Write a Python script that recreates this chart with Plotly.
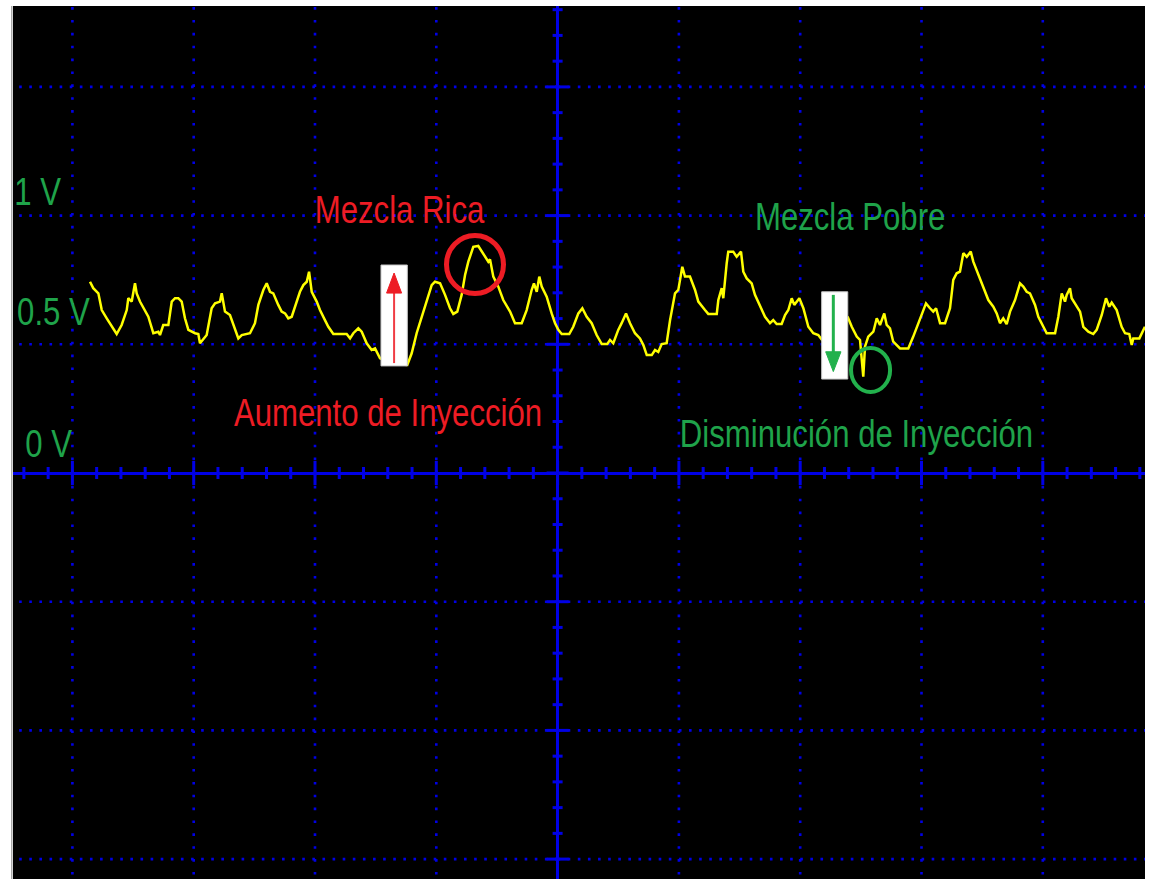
import plotly.graph_objects as go

# ---------------------------------------------------------------------------
# O2 sensor trace: time in screen divisions, amplitude in volts
# ---------------------------------------------------------------------------
t_div = [
    -3.855, -3.828, -3.786, -3.758, -3.717, -3.676, -3.635, -3.594, -3.552, -3.539,
    -3.511, -3.484, -3.470, -3.443, -3.401, -3.374, -3.333, -3.292, -3.278, -3.251,
    -3.209, -3.181, -3.154, -3.127, -3.099, -3.072, -3.044, -2.989, -2.962, -2.948,
    -2.893, -2.852, -2.824, -2.783, -2.769, -2.742, -2.701, -2.659, -2.632, -2.604,
    -2.536, -2.495, -2.467, -2.426, -2.398, -2.371, -2.344, -2.303, -2.275, -2.247,
    -2.220, -2.192, -2.165, -2.124, -2.096, -2.068, -2.049, -2.027, -1.986, -1.959,
    -1.918, -1.890, -1.849, -1.739, -1.711, -1.684, -1.643, -1.615, -1.574, -1.533,
    -1.505, -1.464, -1.349, -1.239, -1.203, -1.162, -1.120, -1.079, -1.038, -1.011,
    -0.969, -0.928, -0.887, -0.860, -0.827, -0.791, -0.763, -0.736, -0.695, -0.654,
    -0.613, -0.571, -0.557, -0.530, -0.489, -0.448, -0.392, -0.351, -0.296, -0.255,
    -0.214, -0.195, -0.172, -0.151, -0.131, -0.090, -0.049, -0.021, 0.006, 0.034,
    0.096, 0.129, 0.171, 0.204, 0.240, 0.281, 0.322, 0.364, 0.410, 0.432,
    0.459, 0.500, 0.528, 0.564, 0.597, 0.638, 0.679, 0.707, 0.735, 0.776,
    0.803, 0.830, 0.858, 0.899, 0.927, 0.968, 0.995, 1.028, 1.050, 1.091,
    1.133, 1.160, 1.215, 1.242, 1.312, 1.325, 1.353, 1.366, 1.394, 1.407,
    1.448, 1.476, 1.512, 1.531, 1.559, 1.600, 1.627, 1.669, 1.710, 1.751,
    1.778, 1.806, 1.847, 1.875, 1.902, 1.930, 1.951, 1.993, 2.026, 2.067,
    2.108, 2.149, 2.180, 2.262, 2.345, 2.396, 2.425, 2.466, 2.493, 2.520,
    2.534, 2.561, 2.603, 2.631, 2.658, 2.693, 2.713, 2.740, 2.767, 2.823,
    2.891, 2.932, 2.974, 3.002, 3.037, 3.070, 3.097, 3.120, 3.153, 3.194,
    3.235, 3.262, 3.290, 3.317, 3.345, 3.373, 3.406, 3.427, 3.468, 3.509,
    3.551, 3.592, 3.620, 3.647, 3.674, 3.702, 3.730, 3.771, 3.812, 3.839,
    3.867, 3.894, 3.936, 3.963, 4.004, 4.032, 4.101, 4.128, 4.156, 4.183,
    4.197, 4.224, 4.238, 4.279, 4.307, 4.334, 4.375, 4.416, 4.444, 4.486,
    4.521, 4.548, 4.568, 4.609, 4.650, 4.678, 4.713, 4.733, 4.746, 4.796,
    4.842,
]

volts = [
    0.743, 0.718, 0.698, 0.633, 0.601, 0.568, 0.540, 0.575, 0.633, 0.679,
    0.666, 0.737, 0.698, 0.666, 0.633, 0.607, 0.543, 0.549, 0.536, 0.575,
    0.575, 0.666, 0.679, 0.679, 0.666, 0.601, 0.556, 0.543, 0.540, 0.504,
    0.536, 0.640, 0.659, 0.666, 0.698, 0.627, 0.614, 0.562, 0.523, 0.536,
    0.543, 0.582, 0.653, 0.711, 0.737, 0.704, 0.698, 0.653, 0.627, 0.620,
    0.601, 0.607, 0.646, 0.704, 0.730, 0.743, 0.782, 0.704, 0.666, 0.633,
    0.594, 0.568, 0.540, 0.540, 0.523, 0.543, 0.562, 0.549, 0.504, 0.478,
    0.484, 0.446, 0.423, 0.420, 0.465, 0.543, 0.607, 0.666, 0.730, 0.743,
    0.737, 0.692, 0.640, 0.618, 0.627, 0.692, 0.769, 0.821, 0.879, 0.882,
    0.854, 0.821, 0.830, 0.763, 0.724, 0.672, 0.627, 0.582, 0.582, 0.633,
    0.711, 0.737, 0.704, 0.763, 0.724, 0.685, 0.620, 0.582, 0.556, 0.540,
    0.540, 0.568, 0.620, 0.640, 0.607, 0.582, 0.536, 0.501, 0.501, 0.517,
    0.504, 0.556, 0.582, 0.620, 0.582, 0.543, 0.523, 0.497, 0.458, 0.458,
    0.478, 0.470, 0.501, 0.504, 0.594, 0.698, 0.711, 0.801, 0.763, 0.763,
    0.711, 0.666, 0.633, 0.618, 0.618, 0.672, 0.718, 0.679, 0.815, 0.860,
    0.860, 0.840, 0.860, 0.782, 0.756, 0.737, 0.692, 0.646, 0.607, 0.582,
    0.594, 0.579, 0.579, 0.614, 0.633, 0.679, 0.653, 0.679, 0.640, 0.568,
    0.543, 0.536, 0.517, 0.501, 0.571, 0.601, 0.568, 0.530, 0.517, 0.374,
    0.491, 0.530, 0.549, 0.601, 0.575, 0.620, 0.575, 0.562, 0.510, 0.484,
    0.484, 0.530, 0.582, 0.620, 0.659, 0.640, 0.627, 0.640, 0.582, 0.582,
    0.640, 0.750, 0.776, 0.782, 0.854, 0.840, 0.860, 0.821, 0.769, 0.724,
    0.672, 0.646, 0.620, 0.582, 0.601, 0.578, 0.627, 0.672, 0.737, 0.724,
    0.704, 0.698, 0.653, 0.607, 0.568, 0.543, 0.543, 0.607, 0.698, 0.666,
    0.692, 0.718, 0.679, 0.646, 0.627, 0.568, 0.549, 0.540, 0.556, 0.614,
    0.679, 0.646, 0.662, 0.633, 0.568, 0.543, 0.540, 0.497, 0.523, 0.523,
    0.568,
]

# Scale labels on the left edge
volt_labels = ["1 V", "0.5 V", "0 V"]
volt_label_x = [-4.280, -4.156, -4.197]
volt_label_y = [1.092, 0.625, 0.113]

# Screen geometry
X_RANGE = [-4.4897, 4.8425]      # divisions
Y_RANGE = [-1.5773, 1.8143]      # volts
V_PER_DIV = 0.5
X_GRID = [-4, -3, -2, -1, 1, 2, 3, 4]
Y_GRID = [-1.5, -1.0, -0.5, 0.5, 1.0, 1.5]

BLUE = "#0000E6"
YELLOW = "#FFFF00"
RED = "#ED1C24"
GREEN = "#22B14C"
GREEN_TEXT = "#1FA34A"
FONT = "Liberation Sans, Arial, sans-serif"
TEXT_SQUEEZE = 0.82   # narrow lettering, like Arial Narrow

fig = go.Figure()

fig.add_trace(go.Scatter(
    x=t_div, y=volts, mode="lines",
    line=dict(color=YELLOW, width=2.5),
    hoverinfo="skip", showlegend=False,
))

shapes = []

# Dotted graticule, drawn outward from the centre axes so dots land on crossings
for k in X_GRID:
    for yend in (Y_RANGE[1], Y_RANGE[0]):
        shapes.append(dict(type="line", xref="x", yref="y", x0=k, x1=k, y0=0, y1=yend,
                           line=dict(color=BLUE, width=2.6, dash="2.6px,10.27px"),
                           layer="below"))
for v in Y_GRID:
    for xend in (X_RANGE[1], X_RANGE[0]):
        shapes.append(dict(type="line", xref="x", yref="y", x0=0, x1=xend, y0=v, y1=v,
                           line=dict(color=BLUE, width=2.6, dash="2.6px,7.51px"),
                           layer="below"))

# Tick marks along the horizontal centre axis (5 per division)
for i in range(-22, 25):
    t = i / 5
    half = 12 if i % 5 == 0 else 6
    shapes.append(dict(type="line", xref="x", yref="y", ysizemode="pixel", yanchor=0,
                       x0=t, x1=t, y0=-half, y1=half,
                       line=dict(color=BLUE, width=3), layer="below"))

# Tick marks along the vertical centre axis (5 per division)
for i in range(-15, 19):
    v = i * V_PER_DIV / 5
    half = 11 if i % 5 == 0 else 5
    shapes.append(dict(type="line", xref="x", yref="y", xsizemode="pixel", xanchor=0,
                       x0=-half, x1=half, y0=v, y1=v,
                       line=dict(color=BLUE, width=3), layer="below"))

# Thin grey bezel on the left edge
shapes.append(dict(type="line", xref="paper", yref="paper", x0=-0.0011, x1=-0.0011,
                   y0=0, y1=1, line=dict(color="#A8A8A8", width=1.5)))

# Rich-mixture marker: white card with an upward red arrow, and a circle on the peak
shapes.append(dict(type="rect", x0=-1.456, x1=-1.239, y0=0.416, y1=0.808,
                   fillcolor="white", line=dict(color="#C8C8C8", width=1)))
shapes.append(dict(type="line", x0=-1.348, x1=-1.348, y0=0.427, y1=0.705,
                   line=dict(color="#F03C44", width=2)))
shapes.append(dict(type="path", path="M -1.410 0.699 L -1.286 0.699 L -1.348 0.777 Z",
                   fillcolor=RED, line=dict(color=RED, width=1)))
shapes.append(dict(type="circle", x0=-0.916, x1=-0.446, y0=0.697, y1=0.923,
                   line=dict(color=RED, width=5)))

# Lean-mixture marker: white card with a downward green arrow, and a circle on the dip
shapes.append(dict(type="rect", x0=2.177, x1=2.392, y0=0.365, y1=0.704,
                   fillcolor="white", line=dict(color="#C8C8C8", width=1)))
shapes.append(dict(type="line", x0=2.273, x1=2.273, y0=0.692, y1=0.465,
                   line=dict(color=GREEN, width=3)))
shapes.append(dict(type="path", path="M 2.210 0.471 L 2.336 0.471 L 2.273 0.394 Z",
                   fillcolor=GREEN, line=dict(color=GREEN, width=1)))
shapes.append(dict(type="circle", x0=2.419, x1=2.741, y0=0.315, y1=0.486,
                   line=dict(color=GREEN, width=4)))

annotations = []
for txt, x, y in zip(volt_labels, volt_label_x, volt_label_y):
    annotations.append(dict(text=txt, x=x, y=y, xref="x", yref="y", xanchor="center",
                            yanchor="middle", showarrow=False,
                            font=dict(family=FONT, size=38, color=GREEN_TEXT)))

notes = [
    ("Mezcla Rica", -1.299, 1.020, RED),
    ("Aumento de Inyección", -1.402, 0.233, RED),
    ("Mezcla Pobre", 2.411, 0.993, GREEN_TEXT),
    ("Disminución de Inyección", 2.460, 0.152, GREEN_TEXT),
]
for txt, x, y, col in notes:
    annotations.append(dict(text=txt, x=x, y=y, xref="x", yref="y", xanchor="center",
                            yanchor="middle", showarrow=False,
                            font=dict(family=FONT, size=38, color=col)))

fig.update_layout(
    width=1154, height=879,
    margin=dict(l=13, r=9, t=6, b=0, pad=0),
    paper_bgcolor="white",
    plot_bgcolor="black",
    shapes=shapes,
    annotations=annotations,
    hovermode=False,
    xaxis=dict(range=X_RANGE, showgrid=False, zeroline=True, zerolinecolor=BLUE,
               zerolinewidth=3, showticklabels=False, ticks="", showline=False,
               fixedrange=True),
    yaxis=dict(range=Y_RANGE, showgrid=False, zeroline=True, zerolinecolor=BLUE,
               zerolinewidth=3, showticklabels=False, ticks="", showline=False,
               fixedrange=True),
)

# Squeeze the lettering horizontally about its own centre
post = (
    "document.body.style.margin='0';"
    "var gd=document.getElementById('{plot_id}');"
    "gd.querySelectorAll('.annotation-text').forEach(function(el){"
    "el.style.transformBox='fill-box';"
    "el.style.transformOrigin='center';"
    "el.style.transform='scaleX(" + str(TEXT_SQUEEZE) + ")';});"
)

fig.write_html("out.html", config={"displayModeBar": False}, post_script=post)
